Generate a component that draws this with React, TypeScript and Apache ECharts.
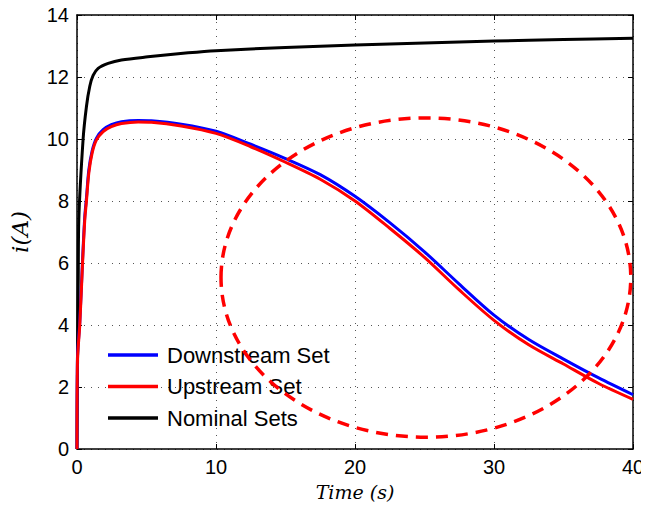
import React, { useEffect, useRef } from "react";
import * as echarts from "echarts";

// Sample times (s) and currents (A) for each set
const upTime = [0, 0.03, 0.2, 0.4, 0.56, 0.68, 0.85, 1.09, 1.4, 1.88, 2.47, 3.2, 4.4, 5.35, 7.5, 10, 12.5, 15, 17.5, 20, 22.5, 25, 27.5, 30, 32.5, 35, 37.5, 40];
const upCurrent = [0, 2.8, 4.0, 6.0, 7.4, 8.0, 8.9, 9.55, 9.97, 10.24, 10.4, 10.5, 10.55, 10.54, 10.42, 10.18, 9.75, 9.25, 8.7, 8.0, 7.12, 6.18, 5.13, 4.15, 3.36, 2.74, 2.12, 1.6];

const downTime = upTime;
const downCurrent = [0, 2.9, 4.1, 6.1, 7.5, 8.1, 9.0, 9.62, 10.03, 10.3, 10.46, 10.56, 10.6, 10.59, 10.48, 10.25, 9.83, 9.37, 8.85, 8.15, 7.3, 6.36, 5.32, 4.32, 3.53, 2.9, 2.3, 1.75];

const nomTime = [0, 0.05, 0.09, 0.13, 0.44, 0.68, 0.92, 1.16, 1.52, 2.24, 3.2, 5.1, 8, 10, 15, 20, 25, 30, 35, 40];
const nomCurrent = [0, 3.5, 5.5, 7.4, 10.0, 11.05, 11.7, 12.05, 12.28, 12.44, 12.55, 12.65, 12.78, 12.85, 12.95, 13.03, 13.1, 13.16, 13.21, 13.25];

// Highlighted region: centre (s, A) and half-widths (s, A)
const regionEllipse = [25.1, 5.53, 14.74, 5.15];

const xTicks = { min: 0, max: 40, interval: 10 };
const yTicks = { min: 0, max: 14, interval: 2 };

const pair = (xs: number[], ys: number[]) => xs.map((x, i) => [x, ys[i]]);

export default function App() {
  const ref = useRef<HTMLDivElement>(null);

  useEffect(() => {
    if (!ref.current) return;
    const chart = echarts.init(ref.current, undefined, { renderer: "svg" });

    const labelFont = { fontFamily: "Liberation Sans, Arial, sans-serif", fontSize: 20, color: "#000" };
    const nameFont = { fontFamily: "DejaVu Serif, Liberation Serif, serif", fontStyle: "italic", color: "#000" };
    const gridDots = { show: true, lineStyle: { color: "#555", width: 1, type: [1, 6] as any } };
    const frameLine = { show: true, onZero: false, lineStyle: { color: "#000", width: 1.5 } };
    const innerTick = { show: true, inside: true, length: 5, lineStyle: { color: "#000", width: 1 } };
    const lineSeries = (name: string, color: string, data: number[][]) => ({
      name,
      type: "line",
      data,
      showSymbol: false,
      smooth: 0.3,
      itemStyle: { color },
      lineStyle: { color, width: 3 },
    });

    chart.setOption({
      animation: false,
      backgroundColor: "#fff",
      grid: { left: 75, right: 16, top: 15, bottom: 61, containLabel: false },
      legend: {
        data: ["Downstream Set", "Upstream Set", "Nominal Sets"],
        orient: "vertical",
        left: 103,
        top: 339,
        icon: "rect",
        itemWidth: 50,
        itemHeight: 3.5,
        itemGap: 9.5,
        textStyle: { ...labelFont, fontSize: 22, padding: [0, 0, 0, 4] },
      },
      xAxis: [
        {
          type: "value",
          position: "bottom",
          ...xTicks,
          axisLine: frameLine,
          axisTick: innerTick,
          axisLabel: { ...labelFont, margin: 8 },
          splitLine: gridDots,
          name: "Time (s)",
          nameLocation: "middle",
          nameGap: 33,
          nameTextStyle: { ...nameFont, fontSize: 19 },
        },
        {
          type: "value",
          position: "top",
          ...xTicks,
          axisLine: frameLine,
          axisTick: innerTick,
          axisLabel: { show: false },
          splitLine: { show: false },
        },
      ],
      yAxis: [
        {
          type: "value",
          position: "left",
          ...yTicks,
          axisLine: frameLine,
          axisTick: innerTick,
          axisLabel: { ...labelFont, margin: 8 },
          splitLine: gridDots,
          name: "i(A)",
          nameLocation: "middle",
          nameGap: 46,
          nameRotate: 90,
          nameTextStyle: { ...nameFont, fontSize: 23 },
        },
        {
          type: "value",
          position: "right",
          ...yTicks,
          axisLine: frameLine,
          axisTick: innerTick,
          axisLabel: { show: false },
          splitLine: { show: false },
        },
      ],
      series: [
        lineSeries("Nominal Sets", "#000000", pair(nomTime, nomCurrent)),
        lineSeries("Downstream Set", "#0000ff", pair(downTime, downCurrent)),
        lineSeries("Upstream Set", "#ff0000", pair(upTime, upCurrent)),
        {
          type: "custom",
          silent: true,
          data: [regionEllipse],
          z: 5,
          renderItem: (_params: any, api: any) => {
            const c = api.coord([api.value(0), api.value(1)]);
            const s = api.size([api.value(2), api.value(3)]);
            return {
              type: "ellipse",
              shape: { cx: c[0], cy: c[1], rx: s[0], ry: s[1] },
              style: { fill: "none", stroke: "#ff0000", lineWidth: 3.5, lineDash: [12, 8] },
            };
          },
        },
      ],
    });

    return () => chart.dispose();
  }, []);

  return <div ref={ref} style={{ width: 649, height: 510, margin: -8 }} />;
}
